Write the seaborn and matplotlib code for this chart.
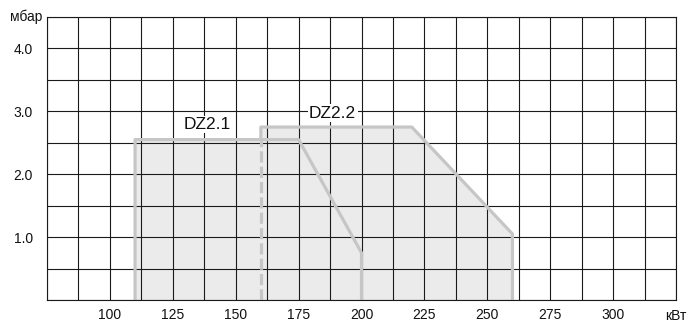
import numpy as np
import matplotlib
matplotlib.use("Agg")
import matplotlib.pyplot as plt
import seaborn as sns
import pandas as pd

# data
dz21_kw = [110, 110, 175, 200, 200]
dz21_mbar = [0, 2.55, 2.55, 0.75, 0]
dz22_kw = [160, 160, 220, 260, 260]
dz22_mbar = [0, 2.75, 2.75, 1.05, 0]
x_ticks = [100, 125, 150, 175, 200, 225, 250, 275, 300]
y_ticks = [1.0, 2.0, 3.0, 4.0]
labels = ["DZ2.1", "DZ2.2"]
label_pos_kw = [138.5, 188.5]
label_pos_mbar = [2.79, 2.97]

sns.set_theme(style="white")
plt.rcParams['font.family'] = ['Liberation Sans', 'DejaVu Sans']

fig = plt.figure(figsize=(6.96, 3.24), dpi=100)
ax = fig.add_axes([47/696, 24/324, (676-47)/696, (300-17)/324])

fill_col = '#ebebeb'
line_col = '#c6c6c6'
lw = 2.3

ax.fill(dz21_kw, dz21_mbar, color=fill_col, zorder=0, lw=0)
ax.fill(dz22_kw, dz22_mbar, color=fill_col, zorder=0, lw=0)

df1 = pd.DataFrame({'kw': dz21_kw, 'mbar': dz21_mbar})
sns.lineplot(data=df1, x='kw', y='mbar', sort=False, color=line_col, lw=lw,
             ax=ax, zorder=3, estimator=None)

# DZ2.2 outline: dashed where inside DZ2.1 area, solid elsewhere
solid_x = [dz22_kw[1]] + dz22_kw[1:]
solid_y = [dz21_mbar[1]] + dz22_mbar[1:]
df2 = pd.DataFrame({'kw': solid_x, 'mbar': solid_y})
sns.lineplot(data=df2, x='kw', y='mbar', sort=False, color=line_col, lw=lw,
             ax=ax, zorder=3, estimator=None)
ax.plot([dz22_kw[0], dz22_kw[1]], [dz22_mbar[0], dz21_mbar[1]],
        color=line_col, lw=lw, dashes=(3.5, 1.3), zorder=3)

ax.set_xlim(75, 325)
ax.set_ylim(0, 4.5)
ax.set_xticks(x_ticks)
ax.set_xticklabels([str(v) for v in x_ticks])
ax.set_yticks(y_ticks)
ax.set_yticklabels([f"{v:.1f}" for v in y_ticks])
ax.set_xticks(np.arange(75, 325.1, 12.5), minor=True)
ax.set_yticks(np.arange(0, 4.51, 0.5), minor=True)
ax.grid(True, which='both', color='#1a1a1a', lw=0.8, zorder=1)
ax.set_axisbelow(False)
for ln in ax.get_xgridlines() + ax.get_ygridlines():
    ln.set_zorder(1)
ax.tick_params(axis='both', which='major', labelsize=10, colors='#111111',
               length=0)
ax.tick_params(axis='x', pad=6)
ax.tick_params(axis='y', pad=10)
ax.tick_params(which='minor', length=0)
for s in ax.spines.values():
    s.set_color('#1a1a1a')
    s.set_linewidth(0.8)
    s.set_zorder(4)
ax.set_xlabel('')
ax.set_ylabel('')

for t, xk, ym in zip(labels, label_pos_kw, label_pos_mbar):
    ax.text(xk, ym, t, ha='center', va='center', fontsize=12.5, color='#111111',
            zorder=5, bbox=dict(facecolor='white', edgecolor='none', pad=1.0))

ax.text(-0.008, 1.0, 'мбар', ha='right', va='center', fontsize=10,
        color='#111111', transform=ax.transAxes)
ax.text(1.0, -0.057, 'кВт', ha='center', va='center', fontsize=10,
        color='#111111', transform=ax.transAxes)

fig.savefig('out.png', dpi=100)
